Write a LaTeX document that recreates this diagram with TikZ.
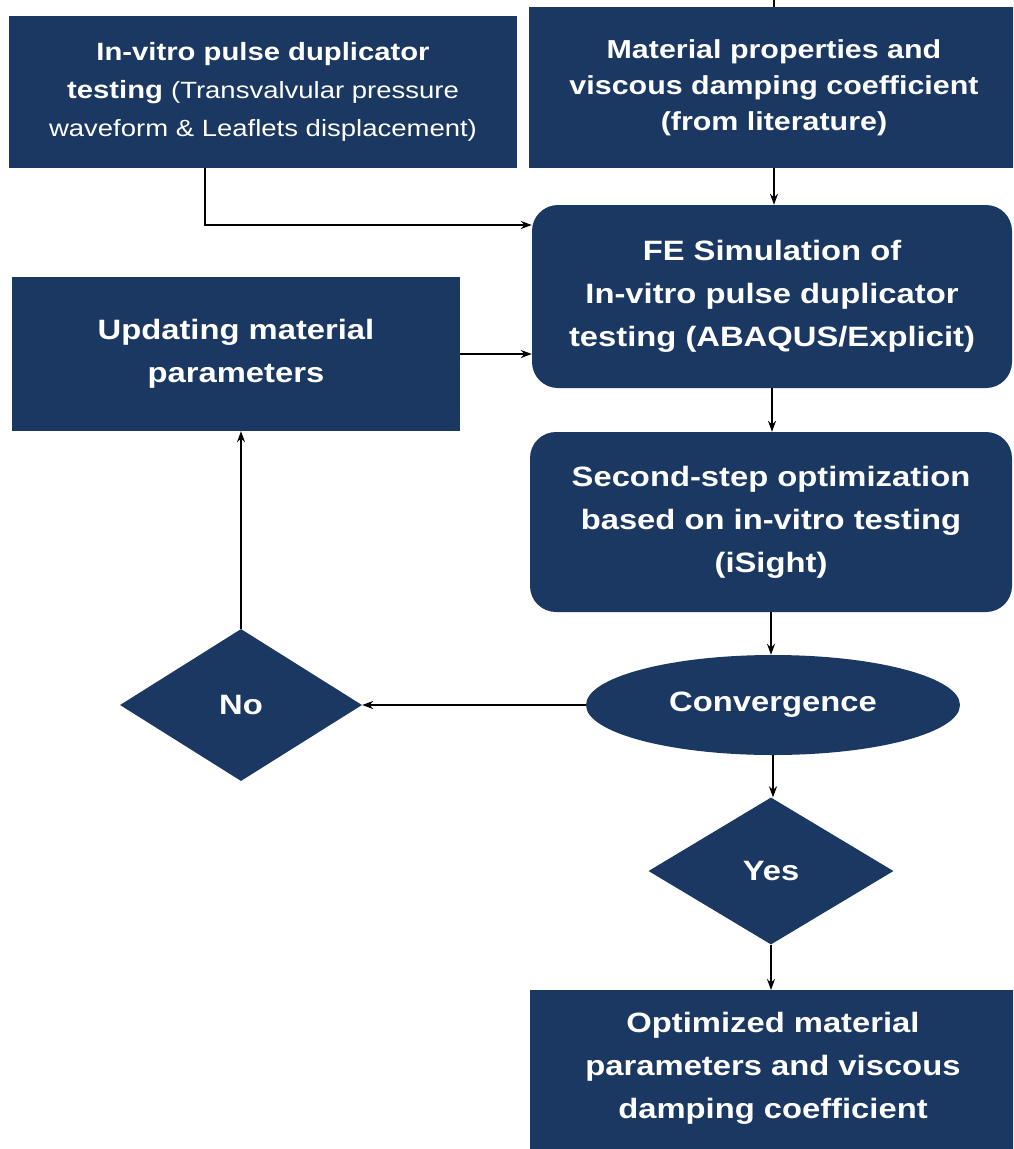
\documentclass[tikz,border=0pt]{standalone}
\usepackage{fontspec}
\setmainfont{Liberation Sans}[FakeStretch=1.17]
\usetikzlibrary{shapes.geometric,arrows.meta}
\definecolor{navy}{RGB}{26,56,98}
\begin{document}
\begin{tikzpicture}[x=1pt,y=-1pt,
  box/.style={fill=navy, text=white, align=center, inner sep=0pt},
  rbox/.style={box, rounded corners=26pt},
  arr/.style={-{Stealth[length=11pt,width=8pt]}, line width=1.4pt, black},
  ftx/.style={font=\fontsize{28}{43}\selectfont\bfseries}]
\useasboundingbox (0,0) rectangle (1013,1149);
\clip (0,0) rectangle (1013,1149);

\node[box, minimum width=508pt, minimum height=152pt, font=\fontsize{25}{38}\selectfont] (A) at (263,92)
  {\textbf{In-vitro pulse duplicator}\\
   \textbf{testing} {\fontsize{23.5}{38}\selectfont (Transvalvular pressure}\\
   {\fontsize{23.5}{38}\selectfont waveform \& Leaflets displacement)}};

\node[box, minimum width=490pt, minimum height=161pt, font=\fontsize{26}{36}\selectfont\bfseries] (B) at (774,87.5)
  {Material properties and\\ viscous damping coefficient\\ (from literature)};

\node[rbox, ftx, minimum width=480pt, minimum height=183pt] (FE) at (772,296.5)
  {FE Simulation of\\ In-vitro pulse duplicator\\ testing (ABAQUS/Explicit)};

\node[box, ftx, minimum width=448pt, minimum height=154pt] (Upd) at (236,354)
  {Updating material\\ parameters};

\node[rbox, ftx, minimum width=482pt, minimum height=180pt] (Sec) at (771,522)
  {Second-step optimization\\ based on in-vitro testing\\ (iSight)};

\node[box, ellipse, ftx, minimum width=374pt, minimum height=100pt] (Conv) at (773,705) {Convergence};

\node[box, diamond, ftx, minimum width=242pt, minimum height=152pt] (No) at (241,705) {No};

\node[box, diamond, ftx, minimum width=245pt, minimum height=147pt] (Yes) at (771,871) {Yes};

\node[box, minimum width=486pt, minimum height=180pt, anchor=north] (Opt) at (773,990) {};
\node[ftx, text=white, align=center, inner sep=0pt] (OptT) at (773,1068)
  {Optimized material\\ parameters and viscous\\ damping coefficient};

\coordinate (top) at (774,0);
\draw[line width=1.4pt] (top) -- (B.north);

\draw[arr] ([xshift=-58pt]A.south) |- ([yshift=71.5pt]FE.west);
\draw[arr] (B.south) -- (B.south |- FE.north);
\draw[arr] (Upd.east) -- (Upd.east -| FE.west);
\draw[arr] (FE.south) -- (FE.south |- Sec.north);
\draw[arr] (Sec.south) -- (Sec.south |- Conv.north);
\draw[arr] (Conv.west) -- (Conv.west -| No.east);
\draw[arr] (No.north) -- (No.north |- Upd.south);
\draw[arr] (Conv.south) -- (Conv.south |- Yes.north);
\draw[arr] (Yes.south) -- (Yes.south |- Opt.north);
\end{tikzpicture}
\end{document}
